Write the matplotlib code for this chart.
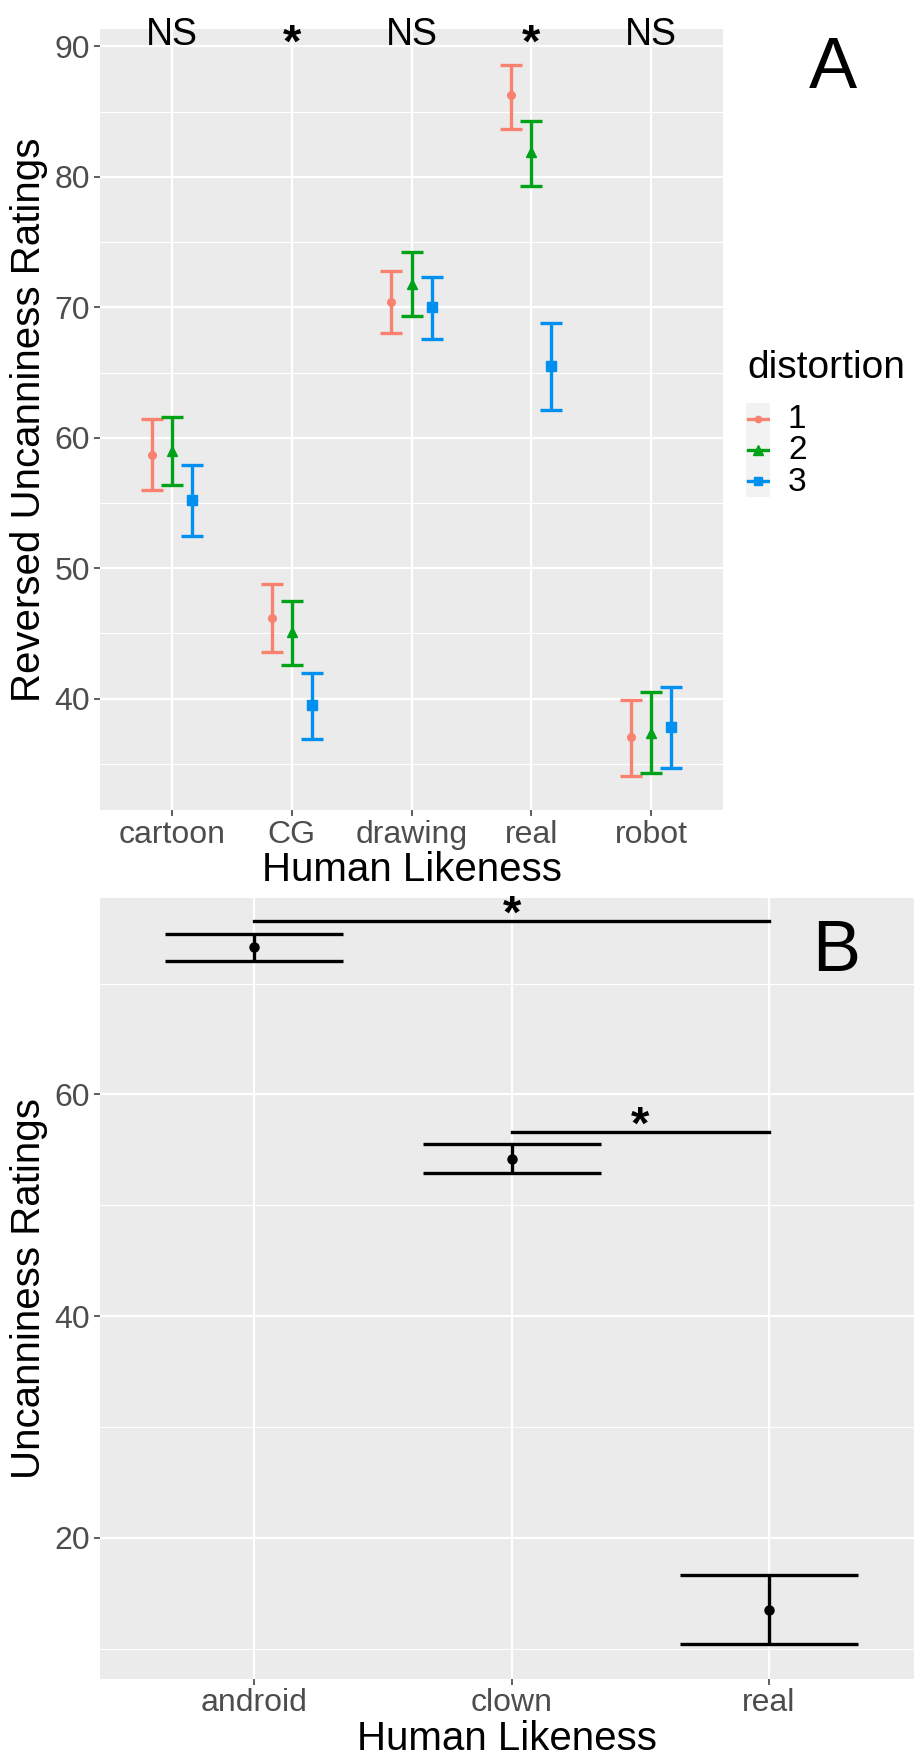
import matplotlib.pyplot as plt
import numpy as np
from matplotlib.lines import Line2D
from matplotlib.ticker import MultipleLocator

plt.rcParams['font.family'] = ['Liberation Sans', 'DejaVu Sans']

# panel A data: mean and error bar ends for each distortion level
cats_a = ['cartoon', 'CG', 'drawing', 'real', 'robot']
levels = ['1', '2', '3']
mean_a = [[58.7, 46.2, 70.4, 86.3, 37.1],
          [59.0, 45.1, 71.8, 81.9, 37.4],
          [55.2, 39.5, 70.0, 65.5, 37.8]]
low_a = [[56.0, 43.6, 68.0, 83.7, 34.1],
         [56.4, 42.6, 69.3, 79.3, 34.3],
         [52.5, 36.9, 67.6, 62.1, 34.7]]
high_a = [[61.4, 48.8, 72.8, 88.6, 39.9],
          [61.6, 47.5, 74.2, 84.3, 40.5],
          [57.9, 42.0, 72.3, 68.8, 40.9]]
sig_a = ['NS', '*', 'NS', '*', 'NS']

# panel B data
cats_b = ['android', 'clown', 'real']
mean_b = [73.3, 54.2, 13.5]
low_b = [72.0, 52.9, 10.4]
high_b = [74.5, 55.5, 16.6]
# significance brackets: (start, end, y)
brackets = [(1, 3, 75.65), (2, 3, 56.6)]

colors = ['#F8826F', '#00A318', '#0090F0']
markers = ['o', '^', 's']
msizes = [5.5, 7.5, 6.5]

bg = '#EBEBEB'
tick_col = '#4D4D4D'

fig = plt.figure(figsize=(9.14, 17.6), dpi=100)

def style(ax):
    ax.set_facecolor(bg)
    for s in ax.spines.values():
        s.set_visible(False)
    ax.grid(True, which='major', color='white', lw=1.6, zorder=0)
    ax.grid(True, which='minor', axis='y', color='white', lw=0.8, zorder=0)
    ax.set_axisbelow(True)
    ax.tick_params(axis='both', which='major', length=4, width=1.1, color='#333333',
                   labelsize=23, labelcolor=tick_col, pad=3)
    ax.tick_params(axis='both', which='minor', length=0)

# ---- panel A ----
ax1 = fig.add_axes([100/914, 1-810/1760, 623/914, 781/1760])
style(ax1)
x = np.arange(1, len(cats_a)+1)
offs = [-0.167, 0, 0.167]
for i in range(3):
    xi = x + offs[i]
    m = np.array(mean_a[i])
    err = [m - np.array(low_a[i]), np.array(high_a[i]) - m]
    ax1.errorbar(xi, m, yerr=err, fmt=markers[i], color=colors[i], ms=msizes[i],
                 elinewidth=2.4, capsize=8, capthick=2.4, zorder=3)
for xi, s in zip(x, sig_a):
    if s == '*':
        ax1.text(xi, 90.1, s, ha='center', va='center', fontsize=34, fontweight='bold', clip_on=False)
    else:
        ax1.text(xi, 90.9, s, ha='center', va='center', fontsize=27, clip_on=False)
ax1.set_xlim(0.4, 5.6)
ax1.set_ylim(31.47, 91.33)
ax1.set_xticks(x)
ax1.set_xticklabels(cats_a)
ax1.yaxis.set_major_locator(MultipleLocator(10))
ax1.yaxis.set_minor_locator(MultipleLocator(5))
ax1.set_xlabel('Human Likeness', fontsize=29, va='center')
ax1.set_ylabel('Reversed Uncanniness Ratings', fontsize=29, va='center')
ax1.xaxis.set_label_coords(0.5, -0.077)
ax1.yaxis.set_label_coords(-71/623, 0.5)

fig.text(833/914, 1-70/1760, 'A', fontsize=52, ha='center', va='center')

# legend drawn by hand
fig.text(747/914, 1-368/1760, 'distortion', fontsize=28, ha='left', va='center')
axl = fig.add_axes([746/914, 1-497/1760, 24/914, 94/1760])
axl.set_facecolor('#F2F2F2')
axl.set_xticks([])
axl.set_yticks([])
for s in axl.spines.values():
    s.set_visible(False)
axl.set_xlim(0, 1)
axl.set_ylim(0, 3)
for i, lab in enumerate(levels):
    yy = 2.5 - i
    axl.add_line(Line2D([0.1, 0.9], [yy, yy], color=colors[i], lw=2.4))
    axl.plot(0.5, yy, markers[i], color=colors[i], ms=msizes[i] - 1)
    fig.text(788/914, 1-(419 + 31.5*i)/1760, lab, fontsize=24, ha='left', va='center')

# ---- panel B ----
ax2 = fig.add_axes([100/914, 1-1678.6/1760, 814/914, 780.6/1760])
style(ax2)
xb = np.arange(1, len(cats_b)+1)
mb = np.array(mean_b)
errb = [mb - np.array(low_b), np.array(high_b) - mb]
ax2.errorbar(xb, mb, yerr=errb, fmt='o', color='black', ms=6.5,
             elinewidth=2.4, capsize=64, capthick=2.4, zorder=3)
for a, b, yy in brackets:
    ax2.plot([a, b], [yy, yy], color='black', lw=2.4, zorder=3)
    ax2.text((a + b)/2, yy + 0.45, '*', ha='center', va='center', fontsize=34, fontweight='bold')
ax2.set_xlim(0.4, 3 + 145/257)
ax2.set_ylim(7.29, 77.72)
ax2.set_xticks(xb)
ax2.set_xticklabels(cats_b)
ax2.yaxis.set_major_locator(MultipleLocator(20))
ax2.yaxis.set_minor_locator(MultipleLocator(10))
ax2.set_xlabel('Human Likeness', fontsize=29, va='center')
ax2.set_ylabel('Uncanniness Ratings', fontsize=29, va='center')
ax2.xaxis.set_label_coords(0.5, -0.077)
ax2.yaxis.set_label_coords(-71/814, 0.5)

fig.text(836/914, 1-952/1760, 'B', fontsize=52, ha='center', va='center')

fig.savefig('out.png', dpi=100, facecolor='white')
